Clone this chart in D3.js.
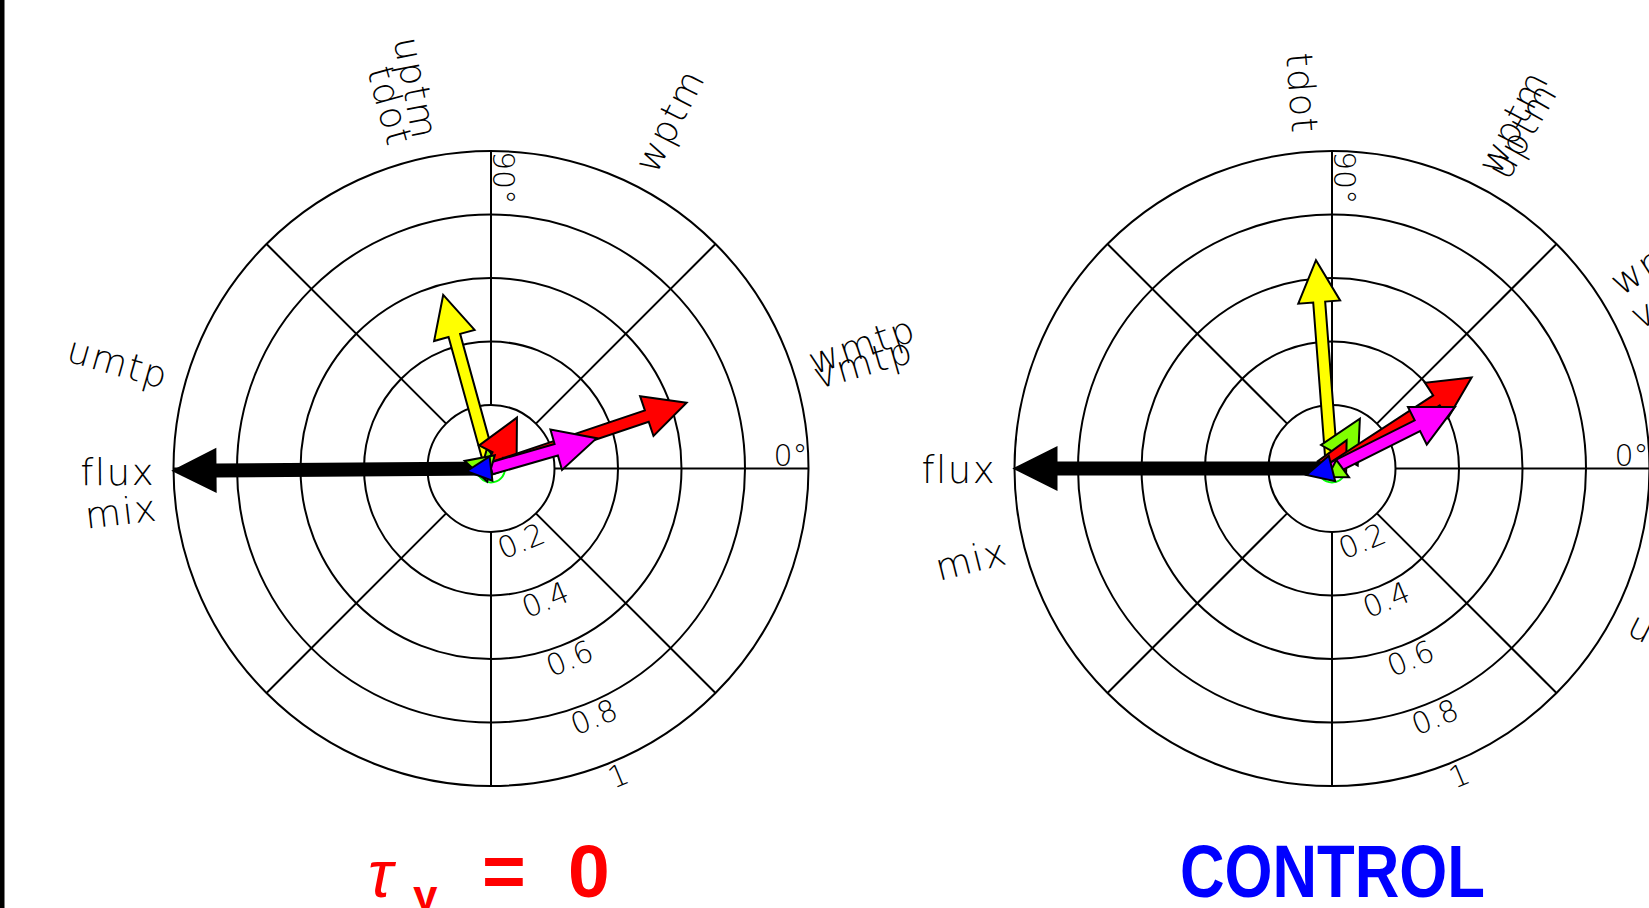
<!DOCTYPE html>
<html><head><meta charset="utf-8">
<script src="https://cdn.jsdelivr.net/npm/d3@7"></script>
<style>
html,body{margin:0;padding:0;background:#fff;overflow:hidden}
svg{display:block}
</style></head><body>
<svg id="chart" width="1649" height="908"></svg>
<script>
// Mixed-layer heat budget terms as phasors: amplitude (relative to flux) and phase (degrees)
const terms      = ["flux","tdot","uptm","wptm","wmtp","vmtp","umtp","mix"];
const termColors = ["#000000","#ffff00","#80ff00","#ff0000","#ff0000","#ff00ff","#80ff00","#0000ff"];
// tau_y = 0 experiment
const ampTau     = [1.0, 0.567, 0.065, 0.18, 0.65, 0.346, 0.086, 0.077];
const phaseTau   = [180.4, 105.4, 101, 63, 18.6, 16, 164, 186.5];
// control experiment
const ampCtrl    = [1.0, 0.658, 0.18, 0.10, 0.525, 0.433, 0.06, 0.083];
const phaseCtrl  = [180, 94.4, 60.8, 62.6, 33.1, 26.6, -27, 194];
// grid
const ringTicks   = [0.2, 0.4, 0.6, 0.8, 1];
const ringLabels  = ["0.2", "0.4", "0.6", "0.8", "1"];
const spokeAngles = [0, 45, 90, 135, 180, 225, 270, 315];

const svg = d3.select("#chart");
const W = 1649, H = 908;
const R = 317.5;
const rScale = d3.scaleLinear().domain([0, 1]).range([0, R]);
const rad = d => d * Math.PI / 180;
const labelFont = "'DejaVu Sans', 'Open Sans', sans-serif";

function arrowPath(L) {
  const head = Math.min(42, L), hw = head / 2, s = 6;
  const b = L - head;
  const sw = Math.min(s, hw);
  return d3.line()([[0, -sw], [b, -sw], [b, -hw], [L, 0], [b, hw], [b, sw], [0, sw]]) + "Z";
}

function panel(cx, cy, amps, phases) {
  const g = svg.append("g").attr("transform", `translate(${cx},${cy})`);

  // rings
  g.selectAll("circle.ring").data(ringTicks).join("circle")
    .attr("class", "ring").attr("r", d => rScale(d))
    .attr("fill", "none").attr("stroke", "#000").attr("stroke-width", 2);

  // spokes
  g.selectAll("line.spoke").data(spokeAngles).join("line")
    .attr("x1", a => rScale(0.2) * Math.cos(rad(a)))
    .attr("y1", a => -rScale(0.2) * Math.sin(rad(a)))
    .attr("x2", a => rScale(1) * Math.cos(rad(a)))
    .attr("y2", a => -rScale(1) * Math.sin(rad(a)))
    .attr("stroke", "#000").attr("stroke-width", 2);

  // radial tick labels along -67.5 deg
  const ta = -67.5;
  g.selectAll("text.rt").data(ringTicks).join("text")
    .attr("transform", (d) => {
      const r = rScale(d) + 15;
      return `translate(${r * Math.cos(rad(ta))},${-r * Math.sin(rad(ta))}) rotate(${-(90 + ta)})`;
    })
    .attr("text-anchor", "middle").attr("dominant-baseline", "central")
    .attr("font-family", labelFont).attr("font-weight", 200).attr("font-size", 30)
    .text((d, i) => ringLabels[i]);

  // angle labels
  g.append("text").attr("x", rScale(1) - 1).attr("y", -3)
    .attr("text-anchor", "end").attr("font-family", labelFont).attr("font-weight", 200)
    .attr("font-size", 30).text("0°");
  g.append("text").attr("transform", `translate(2,${-rScale(1)}) rotate(90)`)
    .attr("text-anchor", "start").attr("font-family", labelFont).attr("font-weight", 200)
    .attr("font-size", 30).text("90°");

  // small reference circle at origin
  g.append("circle").attr("r", 14).attr("fill", "none")
    .attr("stroke", "#00ff00").attr("stroke-width", 2);

  // phasor arrows
  g.selectAll("path.arrow").data(terms).join("path")
    .attr("class", "arrow")
    .attr("d", (t, i) => arrowPath(rScale(amps[i])))
    .attr("transform", (t, i) => `rotate(${-phases[i]})`)
    .attr("fill", (t, i) => termColors[i])
    .attr("stroke", "#000").attr("stroke-width", 2).attr("stroke-linejoin", "miter");

  // term names at the phase angle, just outside the outer ring
  const R0 = rScale(1.058);
  g.selectAll("text.term").data(terms).join("text")
    .attr("class", "term")
    .attr("transform", (t, i) => {
      const a = phases[i];
      const x = R0 * Math.cos(rad(a)), y = -R0 * Math.sin(rad(a));
      const right = Math.cos(rad(a)) >= 0;
      return `translate(${x},${y}) rotate(${right ? -a : 180 - a})`;
    })
    .attr("text-anchor", (t, i) => Math.cos(rad(phases[i])) >= 0 ? "start" : "end")
    .attr("dy", 14)
    .attr("font-family", labelFont).attr("font-weight", 200).attr("font-size", 37)
    .attr("letter-spacing", 1.5)
    .text(t => t);
}

panel(491, 468.5, ampTau, phaseTau);
panel(1332, 468.5, ampCtrl, phaseCtrl);

// experiment captions
const cap = svg.append("g");
const tauText = cap.append("text").attr("y", 897).attr("fill", "#ff0000")
  .attr("font-family", "'Liberation Sans', Arial, sans-serif");
tauText.append("tspan").attr("x", 368).attr("font-size", 66).attr("font-style", "italic").text("τ");
tauText.append("tspan").attr("x", 413).attr("dy", 14).attr("font-size", 44).attr("font-weight", "bold").text("y");
tauText.append("tspan").attr("x", 482).attr("dy", -14).attr("font-size", 75).attr("font-weight", "bold").text("=");
tauText.append("tspan").attr("x", 568).attr("font-size", 75).attr("font-weight", "bold").text("0");

cap.append("text").attr("x", 1180).attr("y", 897).attr("fill", "#0000ff")
  .attr("font-family", "'Liberation Sans', Arial, sans-serif").attr("font-weight", "bold")
  .attr("font-size", 74).attr("textLength", 305).attr("lengthAdjust", "spacingAndGlyphs")
  .text("CONTROL");

// page edge bar
svg.append("rect").attr("x", 0).attr("y", 0).attr("width", 4.5).attr("height", H).attr("fill", "#000");
</script>
</body></html>
